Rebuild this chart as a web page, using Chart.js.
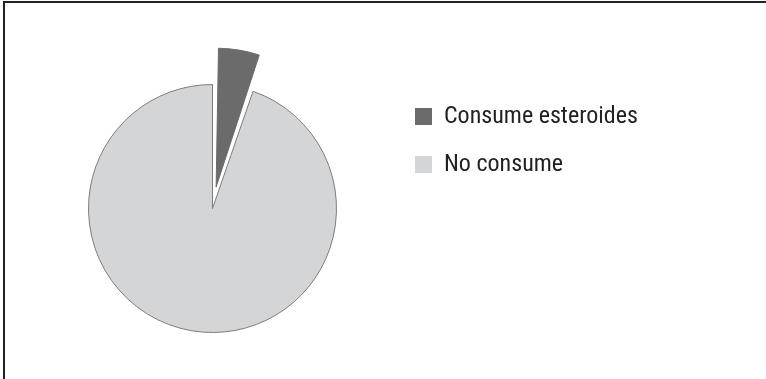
<!DOCTYPE html>
<html>
<head>
<meta charset="utf-8">
<script src="https://cdn.jsdelivr.net/npm/chart.js@4"></script>
<style>
  html, body { margin: 0; padding: 0; background: #fff; }
  #wrap { position: relative; width: 766px; height: 379px; }
  #frame {
    position: absolute; left: 3px; top: 1px; width: 763px; height: 378px;
    border-top: 2px solid #222; border-left: 2px solid #222;
    box-sizing: border-box; pointer-events: none;
  }
</style>
</head>
<body>
<div id="wrap">
  <canvas id="pieChart" width="766" height="379"></canvas>
  <div id="frame"></div>
</div>
<script>
// Datos del gráfico
const categorias = ['Consume esteroides', 'No consume'];
const valores = [5.3, 94.7];
const colores = ['#6b6b6b', '#d4d5d7'];
const bordes = ['#6b6b6b', '#7d7d7d'];
const desplazamientos = [87.5, 0];

const fuente = { family: "'Roboto Condensed', Roboto, sans-serif", size: 24 };

// Ancho de la leyenda, para dejar el pastel en su sitio
const medidor = document.createElement('canvas').getContext('2d');
medidor.font = fuente.size + 'px ' + fuente.family;
const anchoTexto = Math.max(...categorias.map(t => medidor.measureText(t).width));
const cajaAncho = 17, relleno = 24;
const anchoLeyenda = relleno + cajaAncho + fuente.size / 2 + anchoTexto + 10;
const leyendaIzq = 391;

const ctx = document.getElementById('pieChart').getContext('2d');

const pieChart = new Chart(ctx, {
    type: 'pie',
    data: {
        labels: categorias,
        datasets: [{
            data: valores,
            backgroundColor: colores,
            borderColor: bordes,
            borderWidth: 1,
            offset: desplazamientos
        }]
    },
    options: {
        responsive: false,
        animation: false,
        layout: {
            padding: { left: 34, top: 40.25, bottom: 2.25, right: 766 - leyendaIzq - anchoLeyenda }
        },
        plugins: {
            tooltip: { enabled: false },
            legend: {
                position: 'right',
                align: 'start',
                title: { display: true, text: ' ', font: { size: 10, lineHeight: 1 }, padding: { top: 30.25, bottom: 0 } },
                labels: {
                    boxWidth: cajaAncho,
                    boxHeight: 17,
                    padding: relleno,
                    color: '#222',
                    font: fuente,
                    generateLabels: function (chart) {
                        const items = Chart.controllers.pie.overrides.plugins.legend.labels.generateLabels(chart);
                        items.forEach(it => { it.lineWidth = 0; });
                        return items;
                    }
                }
            }
        }
    }
});
</script>
</body>
</html>
